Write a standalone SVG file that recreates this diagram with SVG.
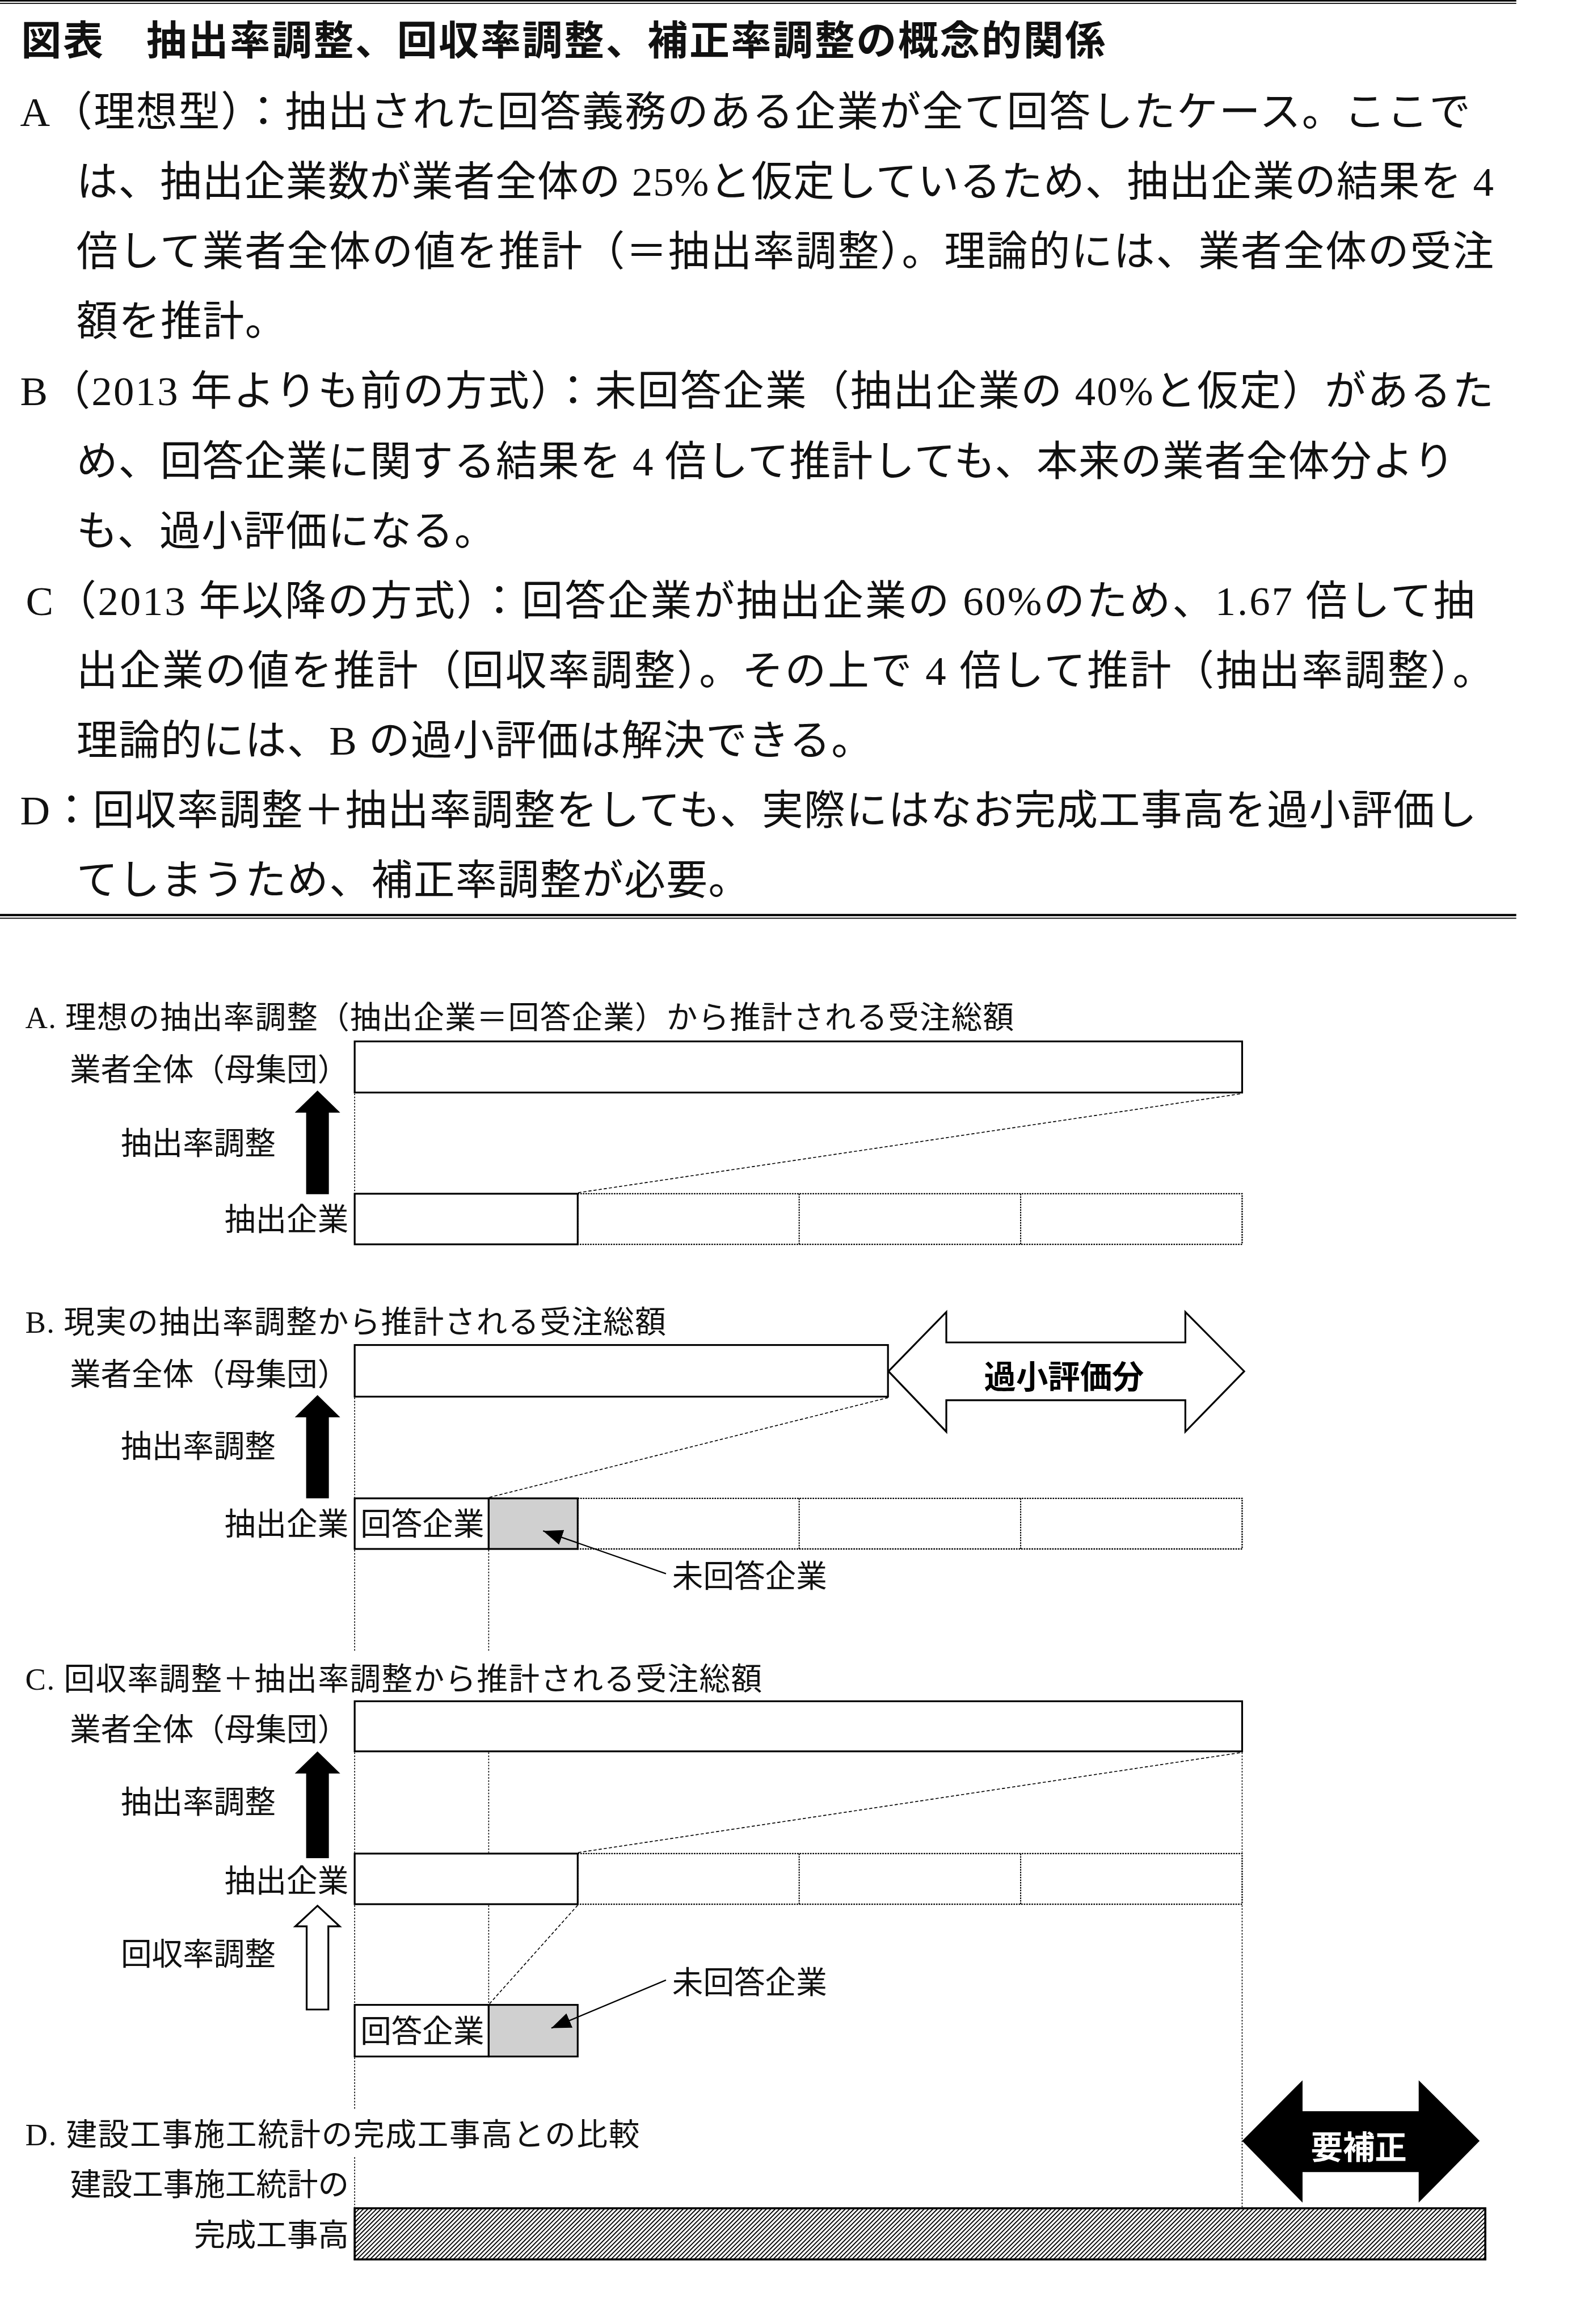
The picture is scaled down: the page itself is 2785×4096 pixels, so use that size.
<svg xmlns="http://www.w3.org/2000/svg" width="2785" height="4096" viewBox="0 0 2785 4096">
<style>
.p{font-family:"Liberation Serif","Noto Sans CJK JP",serif;font-size:80px;letter-spacing:1.6px;fill:#111}
.t{font-family:"Noto Sans CJK JP",sans-serif;font-weight:700;font-size:78px;fill:#111}
.l{font-family:"Liberation Serif","Noto Sans CJK JP",serif;font-size:60px;fill:#111}
.r{text-anchor:end}
.b{font-family:"Noto Sans CJK JP",sans-serif;font-weight:700;font-size:62px;text-anchor:middle}
.box{fill:#fff;stroke:#000;stroke-width:3.5}
.gray{fill:#d0d0d0;stroke:#000;stroke-width:3.5}
.cell{fill:none;stroke:#000;stroke-width:2.6;stroke-dasharray:3 2}
.div{stroke:#000;stroke-width:2.2;stroke-dasharray:3 2}
.diag{stroke:#000;stroke-width:1.8;stroke-dasharray:6 4;fill:none}
.guide{stroke:#000;stroke-width:1.8;stroke-dasharray:3 3}
.call{stroke:#000;stroke-width:2.5;fill:none}
.blk{fill:#000}
.wht{fill:#fff;stroke:#000;stroke-width:3.5}
.sep{stroke:#000}
</style>
<defs>
<marker id="ah" markerUnits="userSpaceOnUse" viewBox="0 0 38 30" markerWidth="38" markerHeight="30" refX="38" refY="15" orient="auto">
<path d="M0,0 L38,15 L0,30 z" fill="#000"/>
</marker>
<pattern id="hatch" width="6" height="6" patternUnits="userSpaceOnUse" patternTransform="rotate(45)">
<rect width="6" height="6" fill="#fff"/>
<line x1="1" y1="0" x2="1" y2="6" stroke="#000" stroke-width="2.2"/>
</pattern>
</defs>
<g transform="scale(0.91)">
<rect width="3060" height="4500" fill="#fff"/>
<g id="header">
<line class="sep" x1="0" y1="1.5" x2="2937" y2="1.5" stroke-width="3"/>
<line class="sep" x1="0" y1="6.5" x2="2937" y2="6.5" stroke-width="2"/>
<text class="t" x="41" y="105" textLength="2100" lengthAdjust="spacing">図表　抽出率調整、回収率調整、補正率調整の概念的関係</text>
</g>
<g id="explanation">
<text class="p" x="39" y="244" textLength="2811" lengthAdjust="spacing">A（理想型）：抽出された回答義務のある企業が全て回答したケース。ここで</text>
<text class="p" x="148" y="379" textLength="2747" lengthAdjust="spacing">は、抽出企業数が業者全体の 25%と仮定しているため、抽出企業の結果を 4</text>
<text class="p" x="148" y="514.5" textLength="2747" lengthAdjust="spacing">倍して業者全体の値を推計（＝抽出率調整）。理論的には、業者全体の受注</text>
<text class="p" x="148" y="650">額を推計。</text>
<text class="p" x="39" y="785" textLength="2856" lengthAdjust="spacing">B（2013 年よりも前の方式）：未回答企業（抽出企業の 40%と仮定）があるた</text>
<text class="p" x="148" y="920.4" textLength="2671" lengthAdjust="spacing">め、回答企業に関する結果を 4 倍して推計しても、本来の業者全体分より</text>
<text class="p" x="148" y="1055.7">も、過小評価になる。</text>
<text class="p" x="50" y="1191" textLength="2808" lengthAdjust="spacing">C（2013 年以降の方式）：回答企業が抽出企業の 60%のため、1.67 倍して抽</text>
<text class="p" x="148" y="1326.3" textLength="2747" lengthAdjust="spacing">出企業の値を推計（回収率調整）。その上で 4 倍して推計（抽出率調整）。</text>
<text class="p" x="148" y="1461.6">理論的には、B の過小評価は解決できる。</text>
<text class="p" x="39" y="1597" textLength="2823" lengthAdjust="spacing">D：回収率調整＋抽出率調整をしても、実際にはなお完成工事高を過小評価し</text>
<text class="p" x="148" y="1732">てしまうため、補正率調整が必要。</text>
<line class="sep" x1="0" y1="1772.2" x2="2937" y2="1772.2" stroke-width="4.5"/>
<line class="sep" x1="0" y1="1778.5" x2="2937" y2="1778.5" stroke-width="2"/>
</g>
<g id="sectionA">
<text class="l" x="49" y="1991" textLength="1915" lengthAdjust="spacing">A. 理想の抽出率調整（抽出企業＝回答企業）から推計される受注総額</text>
<text class="l r" x="675" y="2092">業者全体（母集団）</text>
<rect id="A-total" class="box" x="687" y="2017" width="1719" height="99"/>
<polygon id="A-arrow" class="blk" points="615,2112 659,2155 637,2155 637,2313 593,2313 593,2155 571,2155"/>
<text class="l" x="234" y="2235">抽出率調整</text>
<text class="l r" x="675" y="2382">抽出企業</text>
<rect id="A-sample" class="box" x="687" y="2312" width="432" height="98"/>
<rect class="cell" x="1119" y="2312" width="1287" height="98"/>
<line class="div" x1="1548" y1="2312" x2="1548" y2="2410"/>
<line class="div" x1="1977" y1="2312" x2="1977" y2="2410"/>
</g>
<g id="sectionB">
<text class="l" x="49" y="2581" textLength="1241" lengthAdjust="spacing">B. 現実の抽出率調整から推計される受注総額</text>
<text class="l r" x="675" y="2682">業者全体（母集団）</text>
<rect id="B-total" class="box" x="687" y="2605" width="1033" height="100"/>
<polygon id="B-under" class="wht" stroke-width="4" points="1721,2656 1833,2541 1833,2600 2296,2600 2296,2541 2410,2656 2296,2773 2296,2712 1833,2712 1833,2773"/>
<text class="b" x="2061" y="2689" fill="#000">過小評価分</text>
<polygon id="B-arrow" class="blk" points="615,2702 659,2745 637,2745 637,2902 593,2902 593,2745 571,2745"/>
<text class="l" x="234" y="2822">抽出率調整</text>
<text class="l r" x="675" y="2972">抽出企業</text>
<rect id="B-resp" class="box" x="687" y="2902" width="259.6" height="98"/>
<rect id="B-nonresp" class="gray" x="946.6" y="2902" width="172.4" height="98"/>
<text class="l" x="698" y="2972">回答企業</text>
<rect class="cell" x="1119" y="2902" width="1287" height="98"/>
<line class="div" x1="1548" y1="2902" x2="1548" y2="3000"/>
<line class="div" x1="1977" y1="2902" x2="1977" y2="3000"/>
<text class="l" x="1302" y="3074">未回答企業</text>
</g>
<g id="sectionC">
<text class="l" x="49" y="3272" textLength="1427" lengthAdjust="spacing">C. 回収率調整＋抽出率調整から推計される受注総額</text>
<text class="l r" x="675" y="3370">業者全体（母集団）</text>
<rect id="C-total" class="box" x="687" y="3295" width="1719" height="97"/>
<polygon id="C-arrow" class="blk" points="615,3392 659,3435 637,3435 637,3599 593,3599 593,3435 571,3435"/>
<text class="l" x="234" y="3511">抽出率調整</text>
<text class="l r" x="675" y="3664">抽出企業</text>
<rect id="C-sample" class="box" x="687" y="3590" width="432" height="98"/>
<rect class="cell" x="1119" y="3590" width="1287" height="98"/>
<line class="div" x1="1548" y1="3590" x2="1548" y2="3688"/>
<line class="div" x1="1977" y1="3590" x2="1977" y2="3688"/>
<polygon id="C-white-arrow" class="wht" points="615,3691 658,3731 636,3731 636,3892 594,3892 594,3731 572,3731"/>
<text class="l" x="234" y="3806">回収率調整</text>
<rect id="C-resp" class="box" x="687" y="3883" width="259.6" height="100"/>
<rect id="C-nonresp" class="gray" x="946.6" y="3883" width="172.4" height="100"/>
<text class="l" x="698" y="3955">回答企業</text>
<text class="l" x="1302" y="3861">未回答企業</text>
</g>
<g id="sectionD">
<text class="l" x="49" y="4155" textLength="1190" lengthAdjust="spacing">D. 建設工事施工統計の完成工事高との比較</text>
<text class="l r" x="676" y="4252">建設工事施工統計の</text>
<text class="l r" x="676" y="4349">完成工事高</text>
<rect id="D-bar" x="687" y="4277" width="2190" height="99" fill="url(#hatch)" stroke="#000" stroke-width="4"/>
<polygon id="D-need" class="blk" points="2406,4146.5 2523,4029 2523,4089 2748,4089 2748,4029 2866,4146.5 2748,4266 2748,4207 2523,4207 2523,4266"/>
<text class="b" x="2632" y="4181" fill="#fff">要補正</text>
</g>
<g id="connectors">
<line class="guide" x1="687" y1="2118" x2="687" y2="2310"/>
<line class="diag" x1="1120" y1="2310" x2="2406" y2="2118"/>
<line class="guide" x1="687" y1="2707" x2="687" y2="2900"/>
<line class="diag" x1="948" y1="2900" x2="1720" y2="2707"/>
<line class="guide" x1="687" y1="3002" x2="687" y2="3198"/>
<line class="guide" x1="946.6" y1="3002" x2="946.6" y2="3198"/>
<line class="guide" x1="687" y1="3394" x2="687" y2="3588"/>
<line class="guide" x1="946.6" y1="3394" x2="946.6" y2="3588"/>
<line class="guide" x1="687" y1="3690" x2="687" y2="3881"/>
<line class="guide" x1="946.6" y1="3690" x2="946.6" y2="3881"/>
<line class="guide" x1="687" y1="3985" x2="687" y2="4085"/>
<line class="guide" x1="687" y1="4178" x2="687" y2="4275"/>
<line class="guide" x1="2406" y1="3394" x2="2406" y2="3588"/>
<line class="guide" x1="2406" y1="3690" x2="2406" y2="4275"/>
<line class="diag" x1="1120" y1="3588" x2="2406" y2="3394"/>
<line class="diag" x1="1119" y1="3690" x2="948" y2="3881"/>
<line class="call" x1="1290" y1="3048" x2="1052" y2="2965" marker-end="url(#ah)"/>
<line class="call" x1="1290" y1="3835" x2="1068" y2="3928" marker-end="url(#ah)"/>
</g>
</g>
</svg>
